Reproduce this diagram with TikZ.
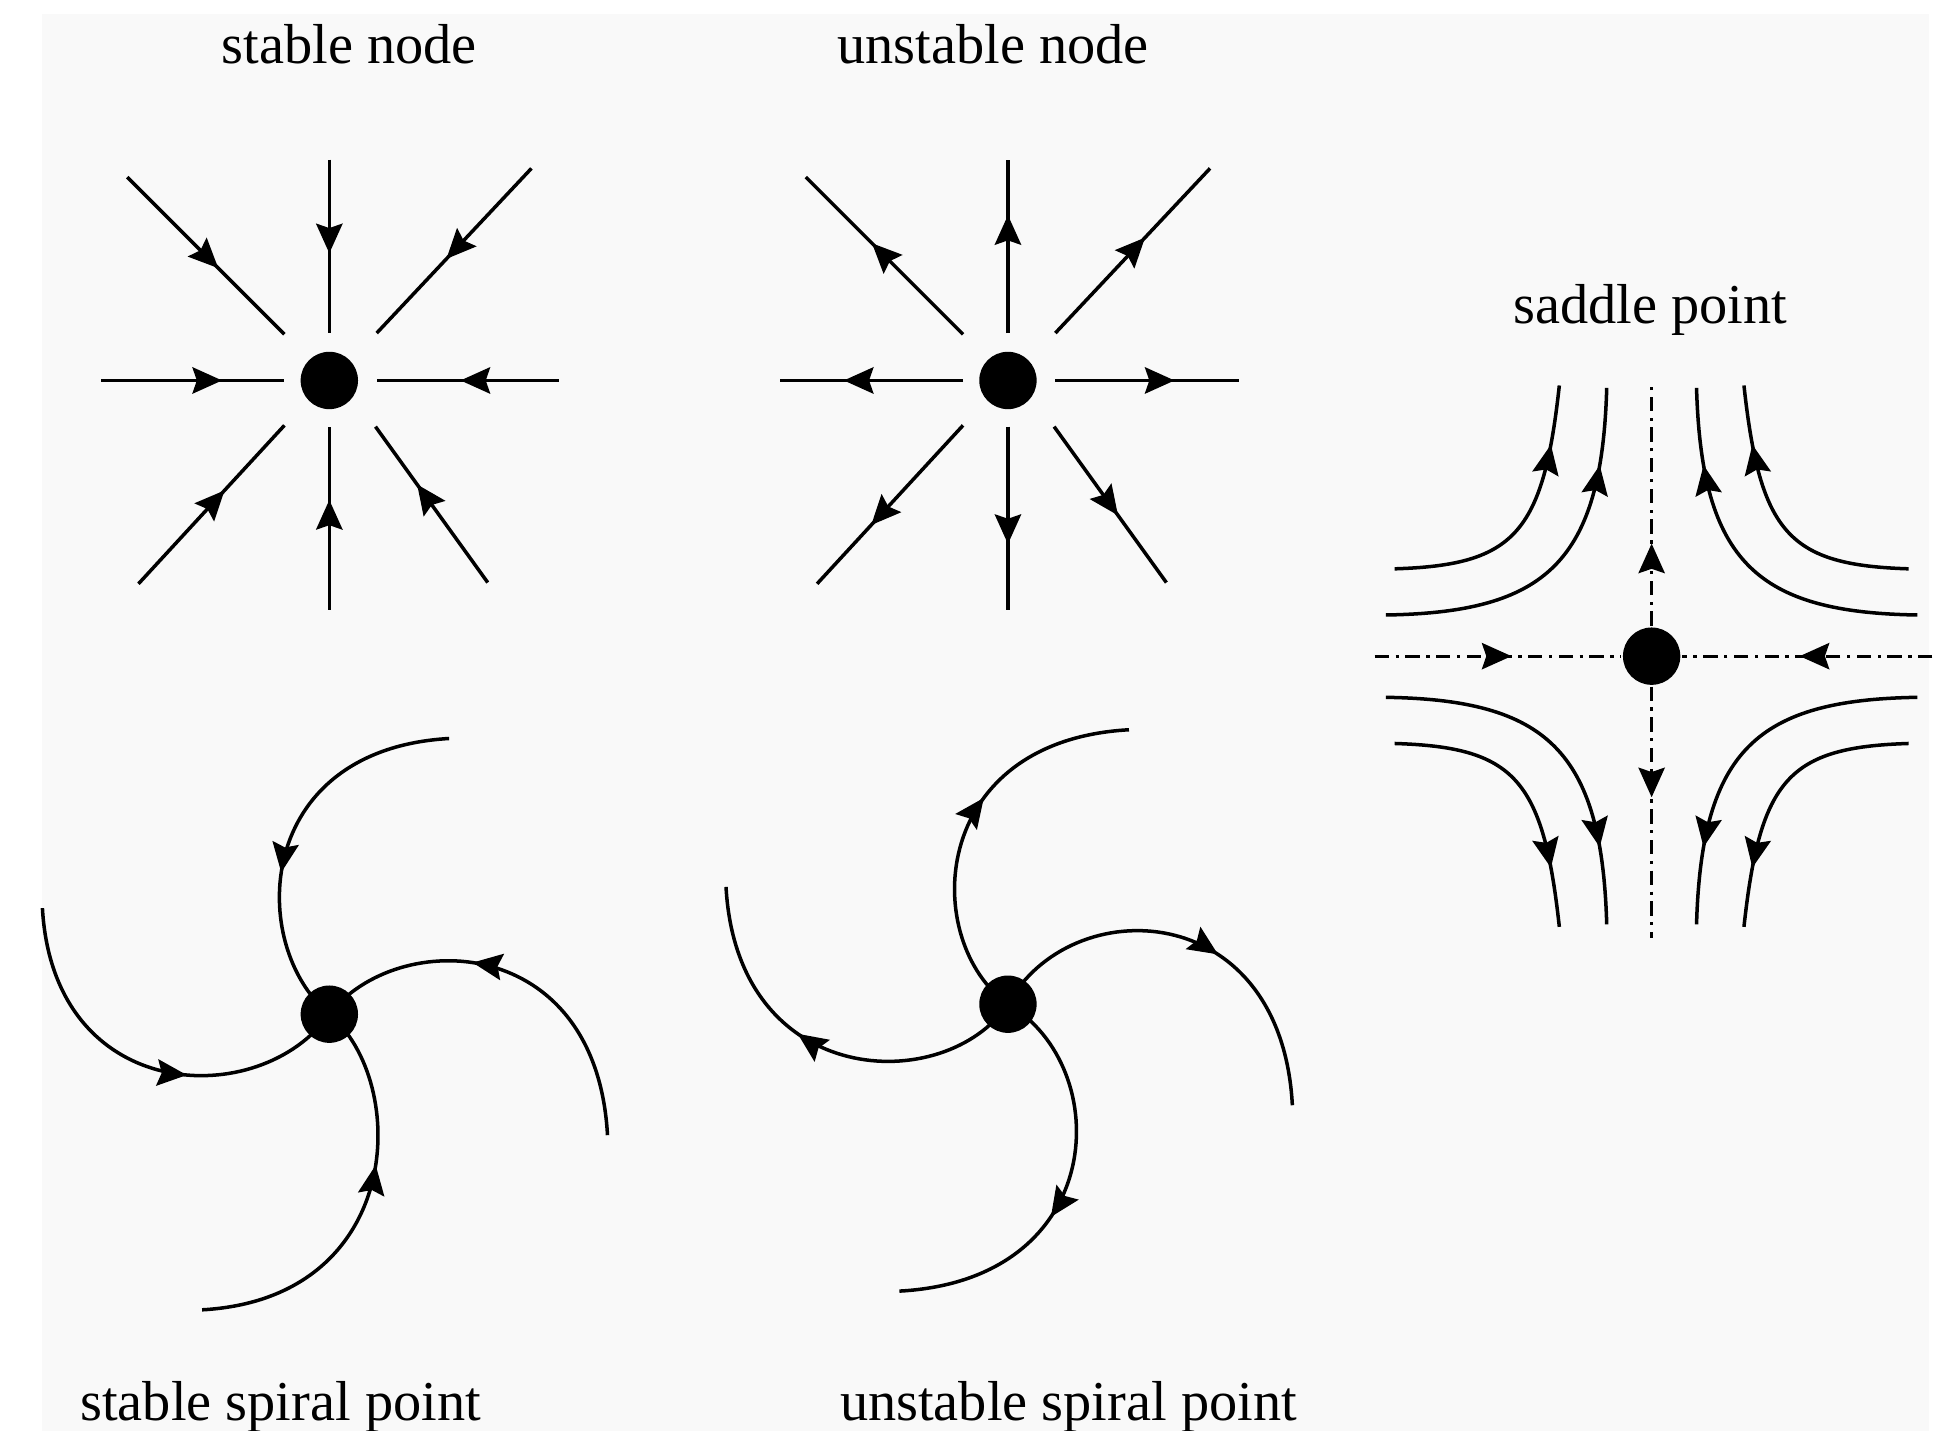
\documentclass[tikz,border=0pt]{standalone}
\usepackage{fontspec}
\setmainfont{Liberation Serif}
\usetikzlibrary{arrows.meta,calc,decorations.markings}
\definecolor{panelgray}{RGB}{249,249,249}
\begin{document}
\begin{tikzpicture}[x=0.02cm,y=0.02cm,line width=1.6pt,
    fixpt/.style={circle,fill=black,inner sep=0pt,minimum size=0.92cm},
    heading/.style={anchor=base,inner sep=0pt,font=\fontsize{25.7}{30}\selectfont},
    tipat/.style={postaction={decorate},decoration={markings,
      mark=at position #1 with {\arrow{Stealth[length=13.5pt,width=12pt,inset=2pt]}}}},
    sepline/.style={line width=1.3pt,dash pattern=on 6.5pt off 3pt on 1.5pt off 3pt} ]
    \useasboundingbox (0,0) rectangle (1568,1147);
    \fill [panelgray] (33.7,0) rectangle (1546.4,1135.8);
    \node at (280,1096) [heading] (tSN) {stable node};
    \node at (796,1096) [heading] (tUN) {unstable node};
    \node at (1323,888) [heading] (tSP) {saddle point};
    \node at (63,8) [heading,anchor=base west] (tSS) {stable spiral point};
    \node at (672,8) [heading,anchor=base west] (tUS) {unstable spiral point};
    \node at (264,842) [fixpt] (SN) {};
    \node at (808,842) [fixpt] (UN) {};
    \node at (1324,621) [fixpt] (SP) {};
    \node at (264,334) [fixpt] (SS) {};
    \node at (808,342) [fixpt] (US) {};
    \foreach \ox/\oy/\ix/\iy/\p [count=\i] in
      {0/177/0/38/.54, 162/170/38/38/.55, 184/0/38/0/.54, 127/-162/37/-37/.63,
       0/-184/0/-37/.60, -153/-163/-36/-36/.59, -183/0/-36/0/.66, -162/163/-36/37/.58}{
      \coordinate (SNo\i) at ($(SN)+(\ox,\oy)$);
      \coordinate (SNi\i) at ($(SN)+(\ix,\iy)$);
      \draw [tipat=\p] (SNo\i) to (SNi\i);
    }
    \foreach \ox/\oy/\ix/\iy/\p [count=\i] in
      {0/177/0/38/.68, 162/170/38/38/.58, 185/0/38/0/.65, 127/-162/37/-37/.57,
       0/-184/0/-37/.64, -153/-163/-36/-36/.63, -183/0/-36/0/.65, -162/163/-36/37/.58}{
      \coordinate (UNo\i) at ($(UN)+(\ox,\oy)$);
      \coordinate (UNi\i) at ($(UN)+(\ix,\iy)$);
      \draw [tipat=\p] (UNi\i) to (UNo\i);
    }
    \coordinate (SPw) at ($(SP)+(-222,0)$);
    \coordinate (SPe) at ($(SP)+(225,0)$);
    \coordinate (SPn) at ($(SP)+(0,218)$);
    \coordinate (SPs) at ($(SP)+(0,-226)$);
    \draw [sepline,tipat=.555] (SPw) to (SP);
    \draw [sepline,tipat=.53] (SPe) to (SP);
    \draw [sepline,tipat=.34] (SP) to (SPn);
    \draw [sepline,tipat=.44] (SP) to (SPs);
    \foreach \sx/\sy [count=\i] in {-1/1,1/1,-1/-1,1/-1}{
      \begin{scope}[shift={(SP)},xscale=\sx,yscale=\sy]
        \coordinate (SPa\i) at (213,33);
        \coordinate (SPb\i) at (36,215);
        \coordinate (SPc\i) at (206,70);
        \coordinate (SPd\i) at (74,217);
        \draw [tipat=.79] (SPa\i) .. controls +(-128,2) and +(4,-140) .. (SPb\i);
        \draw [tipat=.79] (SPc\i) .. controls +(-96,3) and +(13,-119) .. (SPd\i);
      \end{scope}
    }
    \foreach \r/\ex/\ey/\ay/\c [count=\i] in
      {0/223/-97/70/162, 90/221/-96/66/157, 180/230/-85/78/158, 270/237/-102/65/162}{
      \begin{scope}[shift={(SS)},rotate=\r]
        \coordinate (SSe\i) at (\ex,\ey);
        \draw [tipat=.60] (SSe\i) .. controls +(-9,\c) and +(55,\ay) .. (SS.center);
      \end{scope}
    }
    \foreach \r/\ex/\ey/\ay/\c [count=\i] in
      {0/228/-81/91/167, 90/220/-97/70/162, 180/226/-94/74/163, 270/230/-87/86/168}{
      \begin{scope}[shift={(US)},rotate=\r]
        \coordinate (USe\i) at (\ex,\ey);
        \draw [tipat=.58] (US.center) .. controls +(50,\ay) and +(-9,\c) .. (USe\i);
      \end{scope}
    }
\end{tikzpicture}
\end{document}
